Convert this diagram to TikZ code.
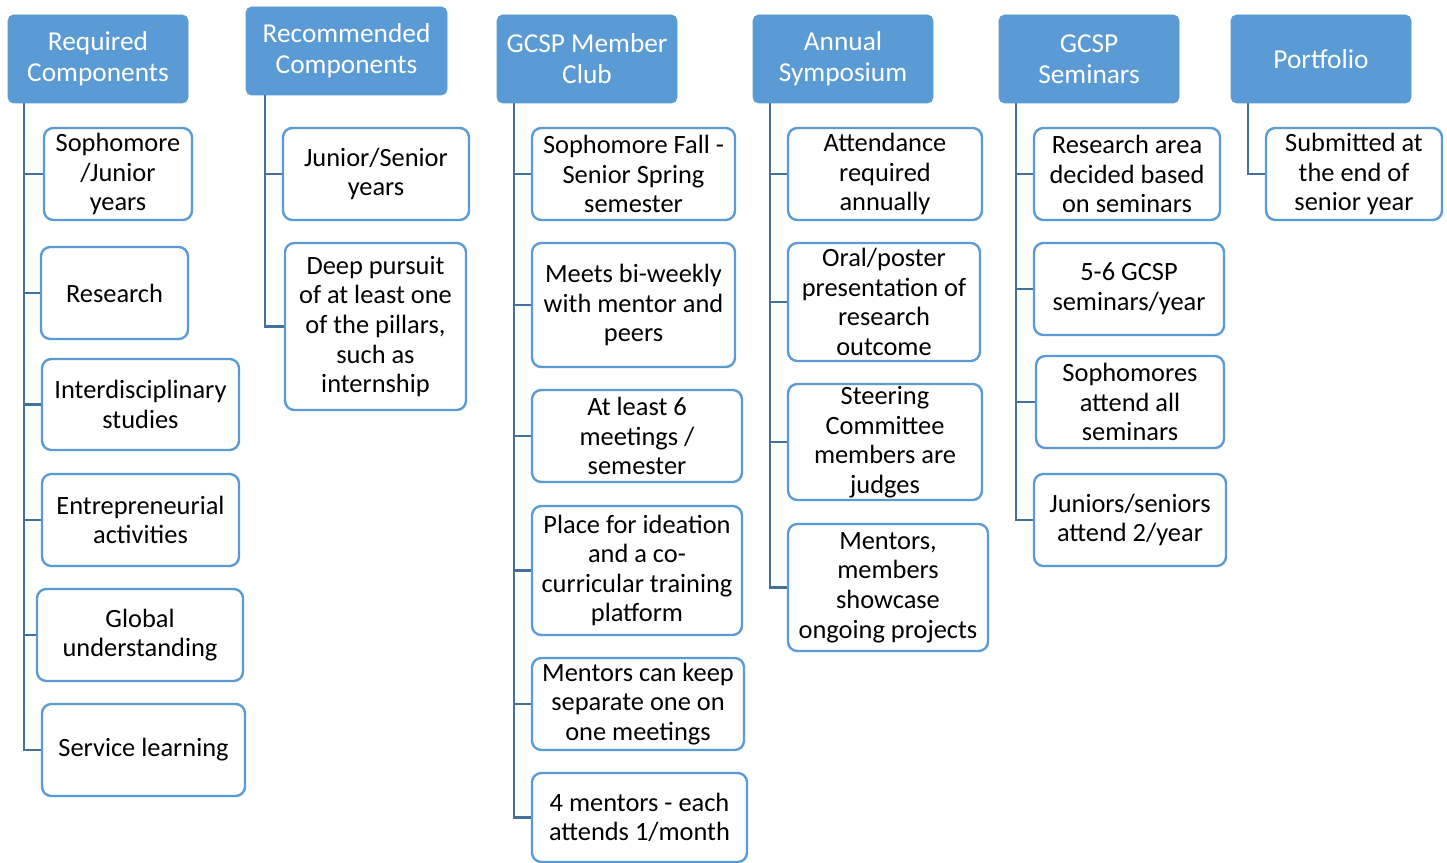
\documentclass[tikz,border=0pt]{standalone}
\usepackage{fontspec}
\setmainfont{Carlito}
\definecolor{hdr}{HTML}{5B9BD5}
\definecolor{cn}{HTML}{41719C}
\tikzset{
  hbox/.style={rectangle, rounded corners=4pt, fill=hdr, draw=hdr, text=white, align=center, inner sep=0pt, font=\fontsize{20.5}{23.2}\selectfont},
  cbox/.style={rectangle, rounded corners=7pt, fill=white, draw=hdr, line width=1.8pt, text=black, align=center, inner sep=0pt, font=\fontsize{19.8}{22.2}\selectfont},
  conn/.style={draw=cn, line width=2.2pt}
}
\newcommand\hb[6]{\node[hbox, minimum width={(#4-#2)*0.75pt}, minimum height={(#5-#3)*0.75pt}] (#1) at ({(#2+#4)/2},{(#3+#5)/2}) {#6};}
\newcommand\cb[6]{\node[cbox, minimum width={(#4-#2)*0.75pt}, minimum height={(#5-#3)*0.75pt}] (#1) at ({(#2+#4)/2},{(#3+#5)/2}) {#6};}
\begin{document}
\begin{tikzpicture}[x=0.75pt,y=-0.75pt]
\useasboundingbox (0,0) rectangle (1447,863);
% column lines x
\coordinate (x1) at (24,0);
\coordinate (x2) at (265,0);
\coordinate (x3) at (514,0);
\coordinate (x4) at (770,0);
\coordinate (x5) at (1016,0);
\coordinate (x6) at (1248,0);
% headers
\hb{h1}{8}{15}{188}{103}{Required\\Components}
\hb{h2}{246}{7}{447}{95}{Recommended\\Components}
\hb{h3}{497}{15}{677}{103}{GCSP Member\\Club}
\hb{h4}{753}{15}{933}{103}{Annual\\Symposium}
\hb{h5}{999}{15}{1179}{103}{GCSP\\Seminars}
\hb{h6}{1231}{15}{1411}{103}{Portfolio}
% column 1
\cb{a1}{44}{128}{192}{220}{Sophomore\\/Junior\\years}
\cb{a2}{41}{247}{188}{339}{Research}
\cb{a3}{42}{359}{239}{450}{Interdisciplinary\\studies}
\cb{a4}{42}{474}{239}{566}{Entrepreneurial\\activities}
\cb{a5}{37}{589}{243}{681}{Global\\understanding}
\cb{a6}{42}{704}{245}{796}{Service learning}
% column 2
\cb{b1}{283}{128}{469}{220}{Junior/Senior\\years}
\cb{b2}{285}{243}{466}{410}{Deep pursuit\\of at least one\\of the pillars,\\such as\\internship}
% column 3
\cb{c1}{532}{128}{735}{220}{Sophomore Fall -\\Senior Spring\\semester}
\cb{c2}{532}{243}{735}{367}{Meets bi-weekly\\with mentor and\\peers}
\cb{c3}{532}{390}{742}{482}{At least 6\\meetings /\\semester}
\cb{c4}{532}{506}{742}{635}{Place for ideation\\and a co-\\curricular training\\platform}
\cb{c5}{532}{658}{744}{750}{Mentors can keep\\separate one on\\one meetings}
\cb{c6}{532}{773}{747}{862}{4 mentors - each\\attends 1/month}
% column 4
\cb{d1}{788}{128}{982}{220}{Attendance\\required\\annually}
\cb{d2}{788}{243}{980}{361}{Oral/poster\\presentation of\\research\\outcome}
\cb{d3}{788}{384}{982}{500}{Steering\\Committee\\members are\\judges}
\cb{d4}{788}{524}{988}{651}{Mentors,\\members\\showcase\\ongoing projects}
% column 5
\cb{e1}{1034}{128}{1220}{220}{Research area\\decided based\\on seminars}
\cb{e2}{1034}{243}{1224}{335}{5-6 GCSP\\seminars/year}
\cb{e3}{1036}{356}{1224}{448}{Sophomores\\attend all\\seminars}
\cb{e4}{1034}{474}{1226}{566}{Juniors/seniors\\attend 2/year}
% column 6
\cb{f1}{1266}{128}{1442}{220}{Submitted at\\the end of\\senior year}
% connectors
\foreach \c in {a1,a2,a3,a4,a5,a6} \draw[conn] (h1.south -| x1) |- (\c.west);
\foreach \c in {b1,b2} \draw[conn] (h2.south -| x2) |- (\c.west);
\foreach \c in {c1,c2,c3,c4,c5,c6} \draw[conn] (h3.south -| x3) |- (\c.west);
\foreach \c in {d1,d2,d3,d4} \draw[conn] (h4.south -| x4) |- (\c.west);
\foreach \c in {e1,e2,e3,e4} \draw[conn] (h5.south -| x5) |- (\c.west);
\foreach \c in {f1} \draw[conn] (h6.south -| x6) |- (\c.west);
\end{tikzpicture}
\end{document}
